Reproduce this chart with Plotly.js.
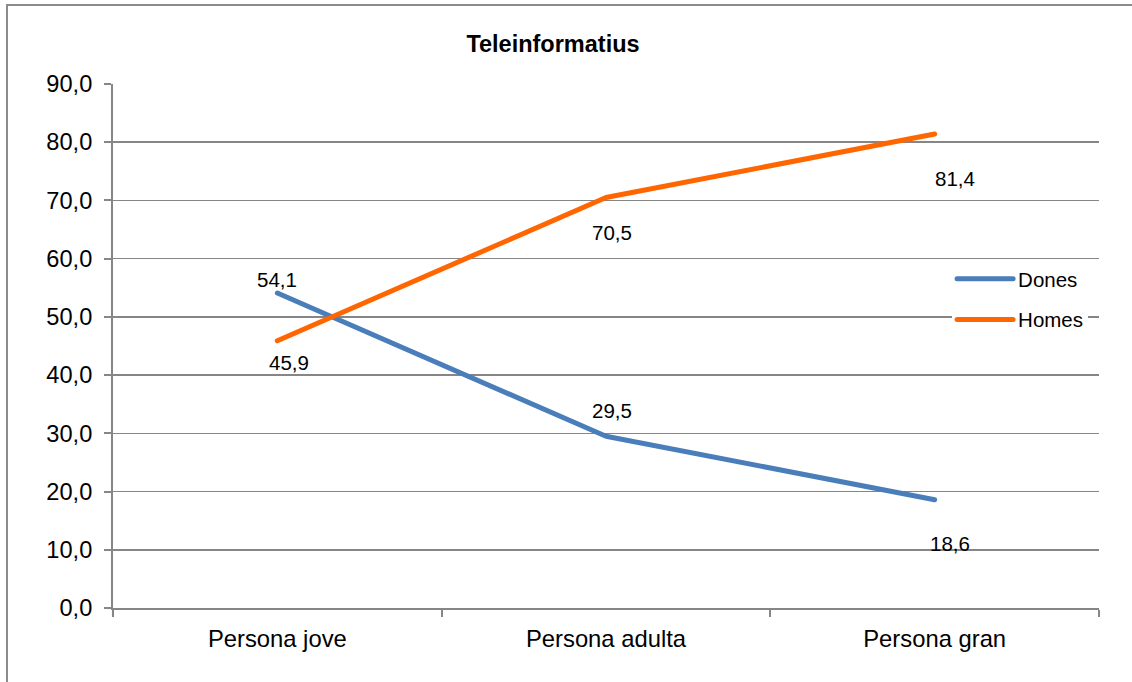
<!DOCTYPE html>
<html>
<head>
<meta charset="utf-8">
<script src="https://cdn.plot.ly/plotly-3.0.1.min.js"></script>
<style>
html,body{margin:0;padding:0;background:#fff;}
#chart{width:1132px;height:682px;}
#chart path.js-line{stroke-linecap:round;stroke-linejoin:round;}
#chart .legendlines path{stroke-linecap:round;}
</style>
</head>
<body>
<div id="chart"></div>
<script>
// ---- data ----
const categories = ["Persona jove", "Persona adulta", "Persona gran"];
const donesValues = [54.1, 29.5, 18.6];
const homesValues = [45.9, 70.5, 81.4];
const seriesNames = ["Dones", "Homes"];
const chartTitle = "Teleinformatius";

// ---- style ----
const FONT = "Liberation Sans, Arial, sans-serif";
const colors = ["#4a7ebb", "#ff6600"];
const gridColor = "#868686";
// label offsets (px) per series, per point
const labelShifts = [
  [[0, 14], [6, 26], [15, -44]],
  [[12, -22], [6, -35], [20, -44]]
];

function fmt(v){ return v.toFixed(1).replace(".", ","); }

const series = [donesValues, homesValues];
const traces = series.map((vals, i) => ({
  type: "scatter",
  mode: "lines",
  x: categories,
  y: vals,
  name: seriesNames[i],
  legendgroup: "g" + i,
  line: {color: colors[i], width: 5},
  hoverinfo: "skip"
}));

const annotations = [];
series.forEach((vals, i) => {
  vals.forEach((v, j) => {
    annotations.push({
      x: categories[j], y: v, xref: "x", yref: "y",
      text: fmt(v), showarrow: false,
      xanchor: "center", yanchor: "middle",
      xshift: labelShifts[i][j][0], yshift: labelShifts[i][j][1],
      font: {family: FONT, size: 20.5, color: "#000"}
    });
  });
});

const layout = {
  width: 1132, height: 682,
  margin: {l: 113, r: 33, t: 84, b: 74, pad: 0},
  paper_bgcolor: "#fff", plot_bgcolor: "#fff",
  separators: ",.",
  showlegend: true,
  title: {
    text: "<b>" + chartTitle + "</b>",
    font: {family: FONT, size: 23.5, color: "#000"},
    xref: "container", yref: "container",
    x: 553 / 1132, xanchor: "center",
    y: 1 - 44 / 682, yanchor: "middle"
  },
  xaxis: {
    type: "category",
    range: [-0.5, 2.5],
    showgrid: false,
    showline: true, linecolor: gridColor, linewidth: 2,
    ticks: "outside", ticklen: 7, tickwidth: 2, tickcolor: gridColor,
    tickson: "boundaries",
    ticklabelstandoff: 8,
    tickfont: {family: FONT, size: 23.8, color: "#000"},
    zeroline: false, fixedrange: true
  },
  yaxis: {
    range: [0, 90], dtick: 10, tick0: 0,
    tickformat: ".1f",
    showgrid: true, gridcolor: gridColor, gridwidth: 1.5,
    showline: true, linecolor: gridColor, linewidth: 2,
    ticks: "outside", ticklen: 7, tickwidth: 2, tickcolor: gridColor,
    ticklabelstandoff: 7,
    tickfont: {family: FONT, size: 23.6, color: "#000"},
    zeroline: false, fixedrange: true
  },
  legend: {
    x: 0.851, xanchor: "left",
    y: 0.666, yanchor: "top",
    bgcolor: "#ffffff", borderwidth: 0,
    itemwidth: 56,
    font: {family: FONT, size: 20.5, color: "#000"},
    traceorder: "grouped", tracegroupgap: 11
  },
  annotations: annotations,
  shapes: [{
    type: "rect", xref: "paper", yref: "paper",
    x0: (7 - 113) / 986, x1: 1.2,
    y0: -0.3, y1: (608 - 5) / 524,
    line: {color: "#8c8c8c", width: 2},
    fillcolor: "rgba(0,0,0,0)", layer: "below"
  }]
};

Plotly.newPlot("chart", traces, layout, {displayModeBar: false, staticPlot: true});
</script>
</body>
</html>
